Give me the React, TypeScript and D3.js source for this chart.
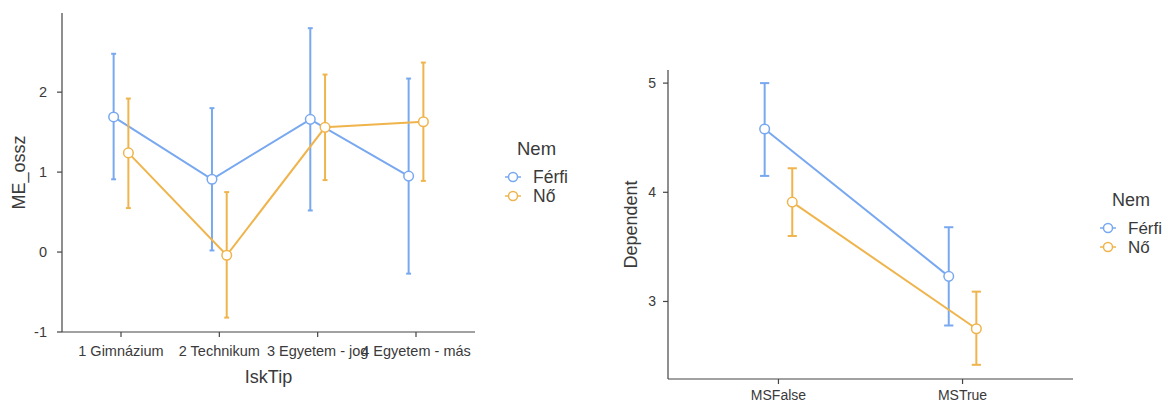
import React from 'react';
import * as d3 from 'd3';

// left plot: ME_ossz by IskTip
const iskCats = ['1 Gimnázium', '2 Technikum', '3 Egyetem - jog', '4 Egyetem - más'];
const meFerfi = [1.69, 0.91, 1.66, 0.95];
const meFerfiLo = [0.91, 0.02, 0.52, -0.27];
const meFerfiHi = [2.48, 1.80, 2.80, 2.17];
const meNo = [1.24, -0.04, 1.56, 1.63];
const meNoLo = [0.55, -0.82, 0.90, 0.89];
const meNoHi = [1.92, 0.75, 2.22, 2.37];
const meTicks = [-1, 0, 1, 2];

// right plot: Dependent by MS
const msCats = ['MSFalse', 'MSTrue'];
const depFerfi = [4.58, 3.23];
const depFerfiLo = [4.15, 2.78];
const depFerfiHi = [5.0, 3.68];
const depNo = [3.91, 2.75];
const depNoLo = [3.60, 2.42];
const depNoHi = [4.22, 3.09];
const depTicks = [3, 4, 5];

const groups = ['Férfi', 'Nő'];
const colors = ['#78a8f0', '#f0b44c'];
const textCol = '#3a3a3a';
const axisCol = '#444';

type Series = { mean: number[]; lo: number[]; hi: number[] };

type PlotProps = {
  cats: string[];
  series: Series[];
  ticks: number[];
  domain: [number, number];
  left: number; right: number; top: number; bottom: number;
  xTitle?: string;
  yTitle: string;
  yTitleX: number;
  tickFont: number;
  tickGap: number;
  titleFont: number;
  xLabelY: number;
  legend: { x: number; y: number; font: number; gap: number };
};

const Plot = (p: PlotProps) => {
  const x = d3.scalePoint<string>().domain(p.cats).range([p.left, p.right]).padding(0.6);
  const y = d3.scaleLinear().domain(p.domain).range([p.bottom, p.top]);
  const dodge = x.step() * 0.075;
  const cap = x.step() * 0.025;
  const line = d3.line<[number, number]>().x(d => d[0]).y(d => d[1]);
  const midY = (p.top + p.bottom) / 2;
  const midX = (p.left + p.right) / 2;

  return (
    <g fontFamily="'Liberation Sans', Arial, sans-serif" fill={textCol}>
      {/* axes */}
      <line x1={p.left} x2={p.left} y1={p.top} y2={p.bottom} stroke={axisCol} strokeWidth={1.2} />
      <line x1={p.left} x2={p.right} y1={p.bottom} y2={p.bottom} stroke={axisCol} strokeWidth={1.2} />
      {p.ticks.map(t => (
        <g key={t}>
          <line x1={p.left - 5} x2={p.left} y1={y(t)} y2={y(t)} stroke={axisCol} strokeWidth={1.2} />
          <text x={p.left - p.tickGap} y={y(t)} dy="0.35em" textAnchor="end" fontSize={p.tickFont}>{t}</text>
        </g>
      ))}
      {p.cats.map(c => (
        <g key={c}>
          <line x1={x(c)!} x2={x(c)!} y1={p.bottom} y2={p.bottom + 5} stroke={axisCol} strokeWidth={1.2} />
          <text x={x(c)!} y={p.xLabelY} dy="0.35em" textAnchor="middle" fontSize={p.tickFont}>{c}</text>
        </g>
      ))}
      {p.xTitle && (
        <text x={midX} y={p.xLabelY + 26} dy="0.35em" textAnchor="middle" fontSize={p.titleFont}>{p.xTitle}</text>
      )}
      <text transform={`translate(${p.yTitleX},${midY}) rotate(-90)`} dy="0.35em" textAnchor="middle" fontSize={p.titleFont}>
        {p.yTitle}
      </text>

      {/* series */}
      {p.series.map((s, gi) => {
        const off = gi === 0 ? -dodge : dodge;
        const pts: [number, number][] = p.cats.map((c, i) => [x(c)! + off, y(s.mean[i])]);
        return (
          <g key={gi}>
            {p.cats.map((c, i) => {
              const cx = x(c)! + off;
              return (
                <g key={c} stroke={colors[gi]} strokeWidth={2}>
                  <line x1={cx} x2={cx} y1={y(s.lo[i])} y2={y(s.hi[i])} />
                  <line x1={cx - cap} x2={cx + cap} y1={y(s.lo[i])} y2={y(s.lo[i])} />
                  <line x1={cx - cap} x2={cx + cap} y1={y(s.hi[i])} y2={y(s.hi[i])} />
                </g>
              );
            })}
            <path d={line(pts) ?? ''} fill="none" stroke={colors[gi]} strokeWidth={2} />
          </g>
        );
      })}
      {p.series.map((s, gi) => {
        const off = gi === 0 ? -dodge : dodge;
        return p.cats.map((c, i) => (
          <circle key={gi + c} cx={x(c)! + off} cy={y(s.mean[i])} r={4.8} fill="#fff" stroke={colors[gi]} strokeWidth={1.5} />
        ));
      })}

      {/* legend */}
      <text x={p.legend.x + 4} y={p.legend.y} dy="0.35em" fontSize={p.legend.font + 1}>Nem</text>
      {groups.map((g, i) => {
        const ly = p.legend.y + 28 + i * p.legend.gap;
        return (
          <g key={g}>
            <line x1={p.legend.x - 8} x2={p.legend.x + 8} y1={ly} y2={ly} stroke={colors[i]} strokeWidth={1.5} />
            <circle cx={p.legend.x} cy={ly} r={4.5} fill="#fff" stroke={colors[i]} strokeWidth={1.5} />
            <text x={p.legend.x + 20} y={ly} dy="0.35em" fontSize={p.legend.font}>{g}</text>
          </g>
        );
      })}
    </g>
  );
};

export default function App() {
  return (
    <svg width={1168} height={403} style={{ position: 'absolute', left: 0, top: 0, background: '#fff' }}>
      <Plot
        cats={iskCats}
        series={[
          { mean: meFerfi, lo: meFerfiLo, hi: meFerfiHi },
          { mean: meNo, lo: meNoLo, hi: meNoHi },
        ]}
        ticks={meTicks}
        domain={[-1, 2.99]}
        left={62} right={475} top={13} bottom={332}
        xTitle="IskTip"
        yTitle="ME_ossz"
        yTitleX={19}
        tickFont={14.5}
        tickGap={15}
        titleFont={18}
        xLabelY={351}
        legend={{ x: 513, y: 149, font: 17.5, gap: 19 }}
      />
      <Plot
        cats={msCats}
        series={[
          { mean: depFerfi, lo: depFerfiLo, hi: depFerfiHi },
          { mean: depNo, lo: depNoLo, hi: depNoHi },
        ]}
        ticks={depTicks}
        domain={[2.29, 5.12]}
        left={668} right={1073} top={70} bottom={379}
        yTitle="Dependent"
        yTitleX={631}
        tickFont={14}
        tickGap={12}
        titleFont={18}
        xLabelY={395}
        legend={{ x: 1108, y: 200, font: 17, gap: 19 }}
      />
    </svg>
  );
}
